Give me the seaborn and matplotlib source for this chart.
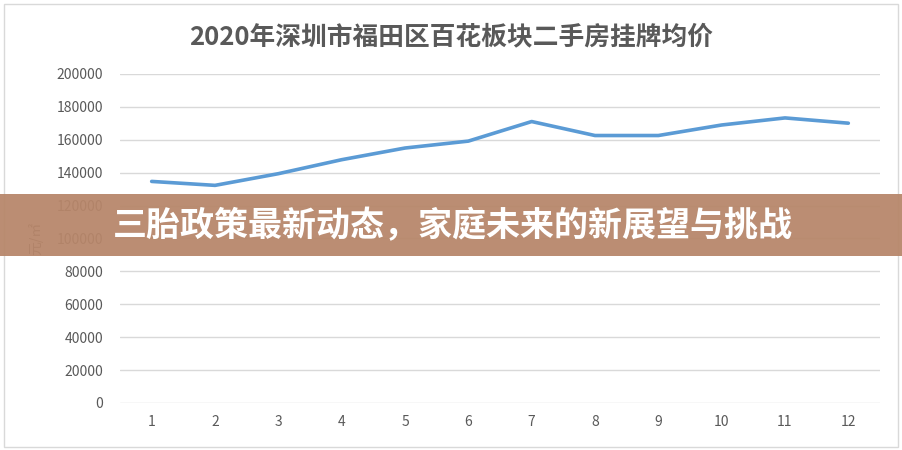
import numpy as np
import pandas as pd
import seaborn as sns
import matplotlib
matplotlib.use("Agg")
import matplotlib.pyplot as plt
from matplotlib.patches import Rectangle

# ── data ────────────────────────────────────────────────
months = [1, 2, 3, 4, 5, 6, 7, 8, 9, 10, 11, 12]
prices = [134700, 132300, 139400, 147900, 155000, 159200,
          171100, 162600, 162600, 169000, 173300, 170100]
y_ticks = [0, 20000, 40000, 60000, 80000, 100000, 120000,
           140000, 160000, 180000, 200000]

title = "2020年深圳市福田区百花板块二手房挂牌均价"
y_label = "元/㎡"
banner = "三胎政策最新动态，家庭未来的新展望与挑战"

df = pd.DataFrame({"month": months, "price": prices})

# ── style ───────────────────────────────────────────────
sns.set_style("white")
plt.rcParams["font.family"] = ["Noto Sans CJK SC", "DejaVu Sans"]

grey = "#595959"
W, H = 902, 450
fig = plt.figure(figsize=(W / 100, H / 100), dpi=100)
ax = fig.add_axes([120 / W, 1 - 403 / H, 760 / W, 329 / H])

sns.lineplot(data=df, x="month", y="price", ax=ax,
             color="#5B9BD5", linewidth=2.6, zorder=3)

ax.set_xlim(0.5, 12.5)
ax.set_ylim(0, 200000)
ax.set_xticks(months)
ax.set_yticks(y_ticks)
ax.set_yticklabels([str(v) for v in y_ticks])
ax.grid(axis="y", color="#D9D9D9", linewidth=1)
ax.set_axisbelow(True)
for s in ax.spines.values():
    s.set_visible(False)
ax.tick_params(axis="both", length=0, labelsize=10, labelcolor=grey)
ax.tick_params(axis="y", pad=12)
ax.tick_params(axis="x", pad=9)
ax.set_xlabel("")
ax.set_ylabel(y_label, color=grey, fontsize=10, labelpad=10)

fig.text(451 / W, 1 - 37 / H, title, ha="center", va="center",
         fontsize=18.5, fontweight="bold", color=grey)

# chart border
fig.patches.append(Rectangle((4 / W, 3 / H), 894 / W, 443 / H,
                             transform=fig.transFigure, fill=False,
                             edgecolor="#D9D9D9", linewidth=1))

# banner overlay
fig.patches.append(Rectangle((0, 1 - 256 / H), 1, 62 / H,
                             transform=fig.transFigure,
                             facecolor="#B7866A", alpha=0.94,
                             edgecolor="none", zorder=10))
fig.text(113 / W, 1 - 226 / H, banner, ha="left", va="center",
         fontsize=24.5, fontweight="bold", color="white", zorder=11)

fig.savefig("out.png", dpi=100)
